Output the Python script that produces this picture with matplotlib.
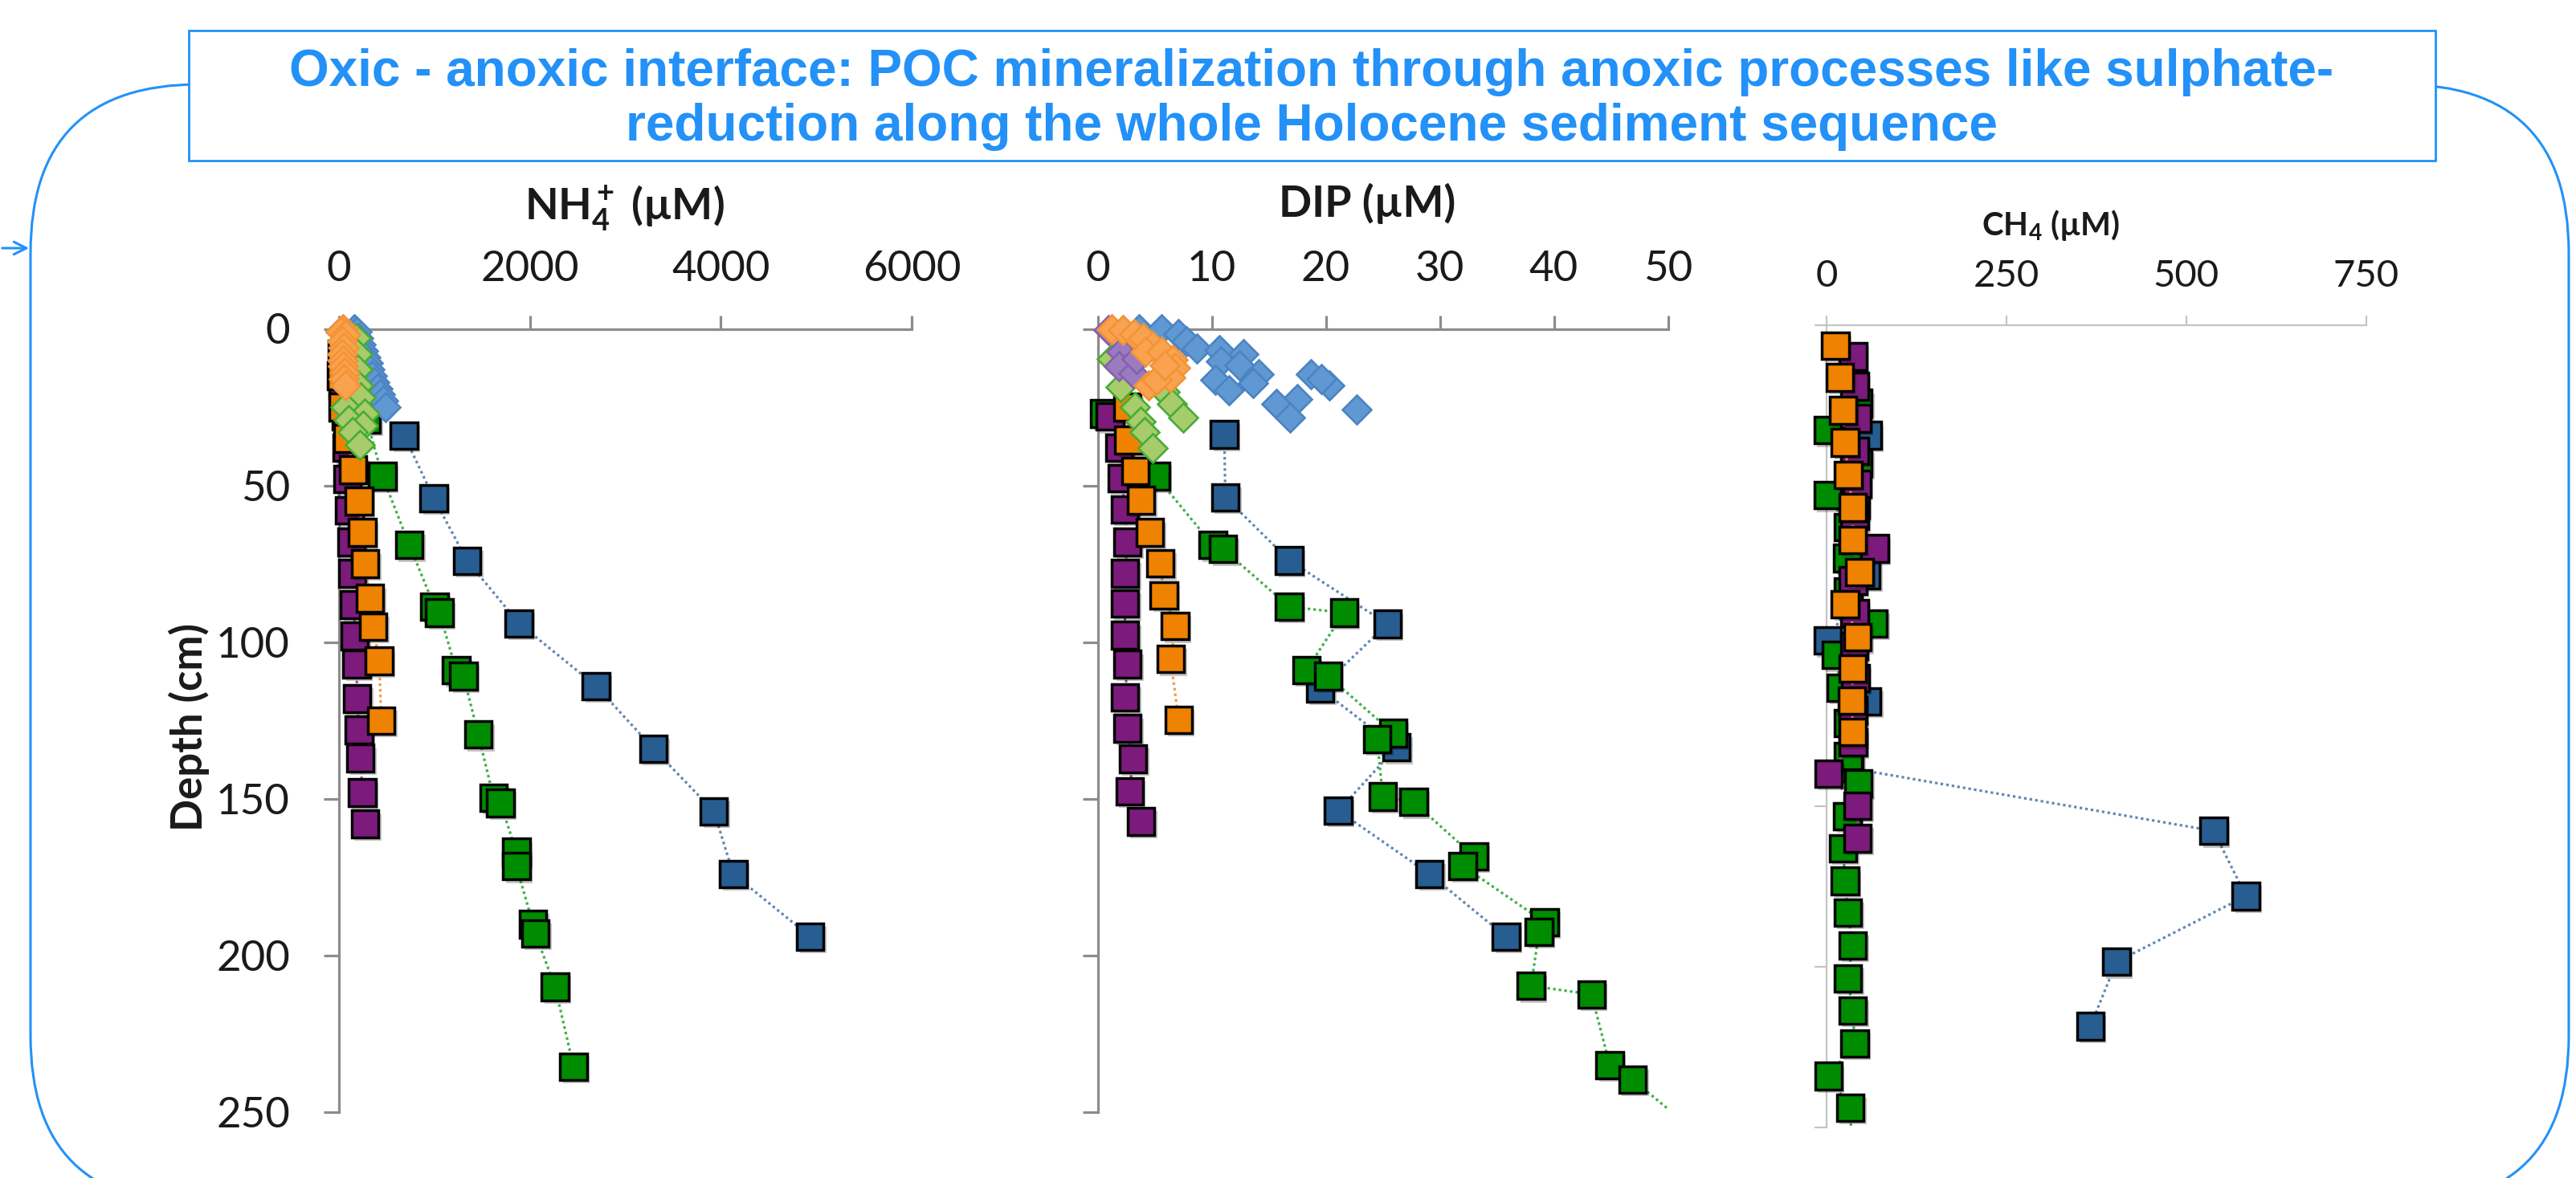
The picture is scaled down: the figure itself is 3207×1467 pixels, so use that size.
import numpy as np
import matplotlib
matplotlib.use('Agg')
import matplotlib.pyplot as plt
from matplotlib.patches import FancyBboxPatch, Rectangle
import matplotlib.patheffects as pe

plt.rcParams['font.family'] = ['Lato', 'DejaVu Sans']
plt.rcParams['mathtext.fontset'] = 'custom'
plt.rcParams['mathtext.rm'] = 'Lato'
plt.rcParams['mathtext.bf'] = 'Lato:bold'
plt.rcParams['mathtext.it'] = 'Lato:italic'

# ---------------- data (depth in cm, concentration) ----------------
# NH4+ (uM)
nh4_blue_d = [34, 54, 74, 94, 114, 134, 154, 174, 194]
nh4_blue_v = [682, 993, 1343, 1886, 2694, 3296, 3928, 4131, 4938]
nh4_green_d = [29, 47, 69, 88.7, 90.6, 109, 110.8, 129.5, 149.7, 151.3, 167, 171.5, 190, 193, 210, 235.5]
nh4_green_v = [290, 455, 737, 1002, 1052, 1229, 1305, 1460, 1620, 1692, 1859, 1859, 2033, 2057, 2264, 2458]
nh4_orange_d = [15, 25, 35, 45, 55, 65, 75, 86, 95, 106, 125]
nh4_orange_v = [20, 40, 90, 148, 210, 244, 274, 323, 358, 421, 444]
nh4_purple_d = [8, 18, 28, 38, 48, 58, 68, 78, 88, 98, 107, 118, 128, 137, 148, 158]
nh4_purple_v = [30, 40, 75, 85, 90, 110, 130, 140, 160, 165, 185, 190, 210, 225, 245, 275]
# surface cores (diamonds)
nh4_dblue_d = [0, 1, 3, 5, 7, 9, 11, 13, 15, 17, 19, 21, 23, 25]
nh4_dblue_v = [160, 185, 205, 225, 250, 275, 300, 320, 345, 370, 400, 430, 460, 490]
nh4_dgreen_d = [3, 8, 13, 18, 22, 25, 27, 29, 31, 33, 37]
nh4_dgreen_v = [180, 190, 195, 200, 230, 70, 270, 100, 250, 140, 220]
nh4_dpurple_d = [1, 6, 10, 14]
nh4_dpurple_v = [20, 45, 35, 55]
nh4_dorange_d = [0, 1, 2, 4, 6, 8, 10, 12, 14, 16, 18]
nh4_dorange_v = [40, 20, 70, 35, 50, 30, 45, 40, 55, 50, 70]

# DIP (uM)
dip_blue_d = [33.7, 53.8, 73.9, 94.2, 114.8, 133.6, 153.8, 174, 194]
dip_blue_v = [11.1, 11.2, 16.8, 25.4, 19.5, 26.2, 21.1, 29.1, 35.8]
dip_green_d = [27, 47, 69, 70.3, 88.7, 90.6, 108.9, 110.8, 129, 131, 149.3, 151, 168.4, 171.4,
               189.4, 192.4, 209.7, 212.4, 235, 239.6, 258]
dip_green_v = [0.6, 5.1, 10.1, 11.0, 16.8, 21.6, 18.3, 20.2, 25.9, 24.5, 25.0, 27.7, 33.0, 32.0,
               39.2, 38.7, 38.0, 43.3, 44.9, 46.9, 53]
dip_orange_d = [25, 35.5, 45.4, 54.7, 65, 74.9, 85, 94.9, 105.4, 124.8]
dip_orange_v = [2.6, 2.7, 3.3, 3.8, 4.6, 5.5, 5.8, 6.8, 6.4, 7.1]
dip_purple_d = [28, 38, 47.7, 57.6, 68, 78, 87.7, 97.8, 107, 117.7, 127.5, 137.2, 147.6, 157.2]
dip_purple_v = [1.1, 1.9, 2.1, 2.4, 2.6, 2.4, 2.4, 2.4, 2.6, 2.4, 2.6, 3.1, 2.8, 3.8]
dip_dblue_d = [0, 0, 1.7, 3.9, 6.4, 6.8, 10.3, 8.2, 11.6, 14.6, 17.2, 16.3, 19.7, 14.6, 18, 16, 22.3, 24, 28.2, 25.7]
dip_dblue_v = [3.65, 5.6, 7.1, 7.8, 8.7, 10.7, 10.8, 12.8, 12.4, 14.1, 13.6, 10.3, 11.5, 18.7, 20.3, 19.6, 17.5, 15.7, 16.9, 22.7]
dip_dgreen_d = [9.5, 18.5, 20.2, 24, 24.9, 28.3, 29.6, 33, 38.1]
dip_dgreen_v = [1.2, 2.0, 5.9, 6.5, 3.3, 7.5, 3.8, 4.1, 4.8]
dip_dpurple_d = [0.4, 7.4, 12, 14.2, 9.5]
dip_dpurple_v = [0.95, 2.1, 1.9, 3.1, 3.4]
dip_dorange_d = [0, 0.4, 1.7, 3, 5.6, 7.4, 7.4, 9.9, 12.5, 15.5, 18, 16.3, 11.7]
dip_dorange_v = [1.2, 2.2, 3.2, 4.0, 4.8, 4.2, 5.6, 6.6, 6.8, 6.4, 4.5, 5.2, 5.9]

# CH4 (uM)
ch4_blue_d = [34.3, 56, 77.8, 98.3, 117.2, 138, 157.6, 177.9, 198.4, 218.5]
ch4_blue_v = [57, 40, 55, 1.2, 56, 31.6, 538, 583, 403, 366.5]
ch4_green_d = [24.3, 32.7, 42.9, 53, 63, 72.6, 83, 92.9, 102.8, 113, 124, 134.3, 142.8, 153, 163,
               173.2, 183, 193.3, 203.5, 213.6, 223.8, 234, 243.9, 262]
ch4_green_v = [43.8, 1.2, 43.8, 1.2, 30, 28.6, 30, 65, 13, 19, 30, 30, 43.8, 28.6, 22.5,
               25.4, 29.2, 35.9, 29.2, 35.9, 38.9, 2.3, 32.8, 35]
ch4_purple_d = [9.8, 19, 29, 39.2, 49.4, 59.5, 69.6, 79.6, 89.8, 100, 110, 120, 130, 139.8, 149.8, 159.9]
ch4_purple_v = [36.5, 38.7, 42, 38.7, 42, 38.7, 66.7, 36.5, 38.7, 38, 40, 36.5, 36.5, 2.4, 42.6, 42.6]
ch4_orange_d = [6.3, 16.3, 26.5, 36.5, 46.6, 56.8, 66.9, 77, 87, 97.3, 107, 117, 126.8]
ch4_orange_v = [12, 18, 22.5, 25.4, 29.8, 35.9, 35.9, 45.5, 25.4, 42.6, 35.9, 35, 35.9]

# ---------------- styles ----------------
sq = {'blue': ('#285d91', '#5f86b3'), 'green': ('#008c00', '#3cb043'),
      'purple': ('#7c1b7c', '#a8459f'), 'orange': ('#ef8200', '#f49a3a')}
dm = {'blue': ('#5f98d2', '#4c84c2'), 'green': ('#a8cb6b', '#46ad35'),
      'purple': ('#9a7bc0', '#8560ad'), 'orange': ('#f9a24f', '#f39335')}

W, H = 3207, 1467
fig = plt.figure(figsize=(W / 100, H / 100), dpi=100)

# frame / title decoration, pixel coordinates measured from the top
fax = fig.add_axes([0, 0, 1, 1], zorder=0)
fax.set_xlim(0, W)
fax.set_ylim(0, H)
fax.axis('off')


def Y(y):
    return H - y


blue = '#2391f7'
fax.add_patch(FancyBboxPatch((38, Y(1500)), 3198 - 38, 1500 - 105,
                             boxstyle='round,pad=0,rounding_size=210',
                             fc='none', ec=blue, lw=2.2))
fax.annotate('', xy=(39, Y(309)), xytext=(0, Y(309)),
             arrowprops=dict(arrowstyle='->', color=blue, lw=2.2, mutation_scale=28))
fax.add_patch(Rectangle((235, Y(200)), 3032 - 235, 200 - 38, fc='white', ec=blue, lw=2.0))
fax.text(1633, Y(107), 'Oxic - anoxic interface: POC mineralization through anoxic processes like sulphate-',
         ha='center', va='baseline', color=blue, fontsize=46, fontweight='bold',
         family='Liberation Sans')
fax.text(1633, Y(175), 'reduction along the whole Holocene sediment sequence',
         ha='center', va='baseline', color=blue, fontsize=46, fontweight='bold',
         family='Liberation Sans')

fax.text(777, Y(273), r'$\mathbf{NH_4^+}$ (µM)', ha='center', va='baseline', fontsize=39,
         fontweight='bold', color='#1a1a1a')
fax.text(1702, Y(270), 'DIP (µM)', ha='center', va='baseline', fontsize=39,
         fontweight='bold', color='#1a1a1a')
fax.text(2553, Y(293), r'$\mathbf{CH_4}$ (µM)', ha='center', va='baseline', fontsize=29,
         fontweight='bold', color='#1a1a1a')
fax.text(235, Y(905), 'Depth (cm)', ha='center', va='center', rotation=90, fontsize=38,
         fontweight='bold', color='#1a1a1a')


def make_panel(left, right, top, bottom, xmax, xticks, axcol, lw, fs, pad_x, tlen):
    ax = fig.add_axes([left / W, 1 - bottom / H, (right - left) / W, (bottom - top) / H], zorder=2)
    ax.set_facecolor('none')
    ax.set_xlim(0, xmax)
    ax.set_ylim(250, 0)
    ax.xaxis.tick_top()
    ax.set_xticks(xticks)
    ax.set_yticks(range(0, 251, 50))
    for s in ['right', 'bottom']:
        ax.spines[s].set_visible(False)
    for s in ['top', 'left']:
        ax.spines[s].set_color(axcol)
        ax.spines[s].set_linewidth(lw)
    ax.tick_params(axis='x', direction='out', length=tlen, width=lw, color=axcol,
                   labelsize=fs, pad=pad_x, labelcolor='#1a1a1a')
    ax.tick_params(axis='y', direction='out', length=tlen + 2, width=lw, color=axcol,
                   labelsize=38, pad=30, labelcolor='#1a1a1a')
    return ax


def series(ax, d, v, col, xmax, marker='s', line=True, z=3):
    d = np.array(d, float)
    v = np.array(v, float)
    if marker == 's':
        fc, lc = sq[col]
        if line:
            ax.plot(v, d, ls=(0, (1, 1.2)), color=lc, lw=2.3, zorder=z)
        keep = (d <= 250) & (v <= xmax)
        ax.plot(v[keep], d[keep], ls='none', marker='s', ms=24, mfc=fc, mec='black', mew=2.5,
                zorder=z + 0.5, clip_on=False,
                path_effects=[pe.SimplePatchShadow(offset=(2.5, -3), shadow_rgbFace='k', alpha=0.22),
                              pe.Normal()])
    else:
        fc, ec = dm[col]
        ax.plot(v, d, ls='none', marker='D', ms=18.5, mfc=fc, mec=ec, mew=1.9,
                zorder=z, clip_on=False)


# NH4 panel
ax1 = make_panel(422, 1135, 409.5, 1385, 6000, [0, 2000, 4000, 6000], '#8c8c8c', 2.3, 38, 24, 12)
series(ax1, nh4_blue_d, nh4_blue_v, 'blue', 6000, z=3)
series(ax1, nh4_green_d, nh4_green_v, 'green', 6000, z=4)
series(ax1, nh4_purple_d, nh4_purple_v, 'purple', 6000, z=5)
series(ax1, nh4_orange_d, nh4_orange_v, 'orange', 6000, z=6)
series(ax1, nh4_dblue_d, nh4_dblue_v, 'blue', 6000, marker='D', z=7)
series(ax1, nh4_dgreen_d, nh4_dgreen_v, 'green', 6000, marker='D', z=8)
series(ax1, nh4_dpurple_d, nh4_dpurple_v, 'purple', 6000, marker='D', z=9)
series(ax1, nh4_dorange_d, nh4_dorange_v, 'orange', 6000, marker='D', z=10)

# DIP panel
ax2 = make_panel(1366.5, 2076.5, 409.5, 1385, 50, [0, 10, 20, 30, 40, 50], '#8c8c8c', 2.3, 38, 24, 12)
ax2.set_yticklabels([])
series(ax2, dip_blue_d, dip_blue_v, 'blue', 50, z=3)
series(ax2, dip_green_d, dip_green_v, 'green', 50, z=4)
series(ax2, dip_purple_d, dip_purple_v, 'purple', 50, z=5)
series(ax2, dip_orange_d, dip_orange_v, 'orange', 50, z=6)
series(ax2, dip_dblue_d, dip_dblue_v, 'blue', 50, marker='D', z=7)
series(ax2, dip_dgreen_d, dip_dgreen_v, 'green', 50, marker='D', z=8)
series(ax2, dip_dpurple_d, dip_dpurple_v, 'purple', 50, marker='D', z=9)
series(ax2, dip_dorange_d, dip_dorange_v, 'orange', 50, marker='D', z=10)

# CH4 panel
ax3 = make_panel(2274.3, 2945.6, 405, 1404, 750, [0, 250, 500, 750], '#c4c4c4', 1.6, 34, 20, 9)
ax3.set_yticklabels([])
series(ax3, ch4_blue_d, ch4_blue_v, 'blue', 750, z=3)
series(ax3, ch4_green_d, ch4_green_v, 'green', 750, z=4)
series(ax3, ch4_purple_d, ch4_purple_v, 'purple', 750, z=5)
series(ax3, ch4_orange_d, ch4_orange_v, 'orange', 750, z=6)

fig.savefig('out.png', dpi=100)
